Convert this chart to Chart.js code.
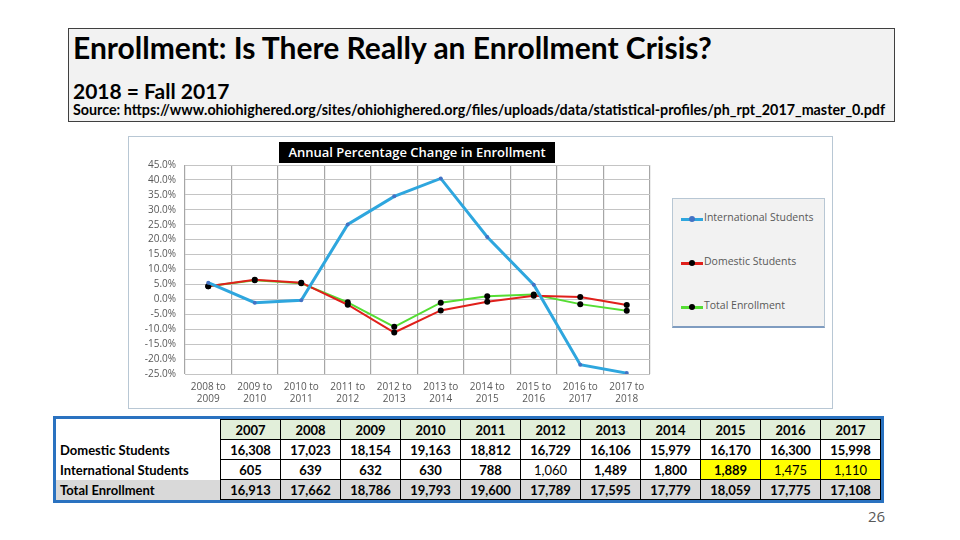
<!DOCTYPE html>
<html><head><meta charset="utf-8">
<script src="https://cdn.jsdelivr.net/npm/chart.js@4.4.1/dist/chart.umd.min.js"></script>
<style>
body{margin:0;width:960px;height:540px;background:#fff;position:relative;overflow:hidden;font-family:Lato,'Open Sans',sans-serif;}
#titlebox{position:absolute;left:68px;top:28px;width:827px;height:94px;background:#f2f2f2;border:1px solid #404040;box-sizing:border-box;}
#t1{position:absolute;left:4px;top:0px;font-weight:700;font-size:30px;color:#000;white-space:nowrap;}
#t2{position:absolute;left:4px;top:49px;font-weight:700;font-size:21px;color:#000;white-space:nowrap;}
#t3{position:absolute;left:4px;top:72px;font-weight:700;font-size:14.3px;color:#000;white-space:nowrap;}
#chartbox{position:absolute;left:128px;top:136px;width:705px;height:273px;border:1px solid #b8c7d4;box-sizing:border-box;background:#fff;}
#cv{position:absolute;left:128px;top:136px;}
#ctitle{position:absolute;left:279px;top:142px;width:276px;height:21px;line-height:21px;background:#000;color:#fff;font-family:'Open Sans',sans-serif;font-weight:600;font-size:13px;text-align:center;white-space:nowrap;}
#legend{position:absolute;left:672px;top:198px;width:153px;height:130px;background:#f2f2f2;border:1px solid #b8c7d4;border-bottom:2px solid #7f9cc0;box-sizing:border-box;}
.li{position:absolute;left:8px;height:12px;font-size:10.5px;color:#595959;white-space:nowrap;font-family:'Open Sans',sans-serif;}
.ls{position:absolute;left:0;top:5px;width:22px;height:3px;}
.ld{position:absolute;left:8px;top:3px;width:6px;height:6px;border-radius:50%;}
.lt{position:absolute;left:23px;top:-3px;}
#tblwrap{position:absolute;left:53px;top:416px;border:3px solid #2a72c0;background:#fff;}
table{border-collapse:collapse;font-family:Lato,sans-serif;font-size:13px;font-weight:700;color:#000;}
td{height:19px;padding:0;text-align:center;border:1px solid #000;width:59px;}
td.lab{width:160px;text-align:left;padding-left:4px;border-top:none;border-bottom:none;border-left:none;}
tr.hdr td{background:#e2efda;}
tr.hdr td.lab{background:#fff;}
tr.tot td{background:#d9d9d9;}
td.hl{background:#ffff00;}
td.reg{font-weight:400;}
#pg{position:absolute;left:868px;top:506px;font-size:15px;color:#595959;font-family:'Open Sans',sans-serif;}
</style></head>
<body>
<div id="titlebox">
<div id="t1">Enrollment: Is There Really an Enrollment Crisis?</div>
<div id="t2">2018 = Fall 2017</div>
<div id="t3">Source: https://www.ohiohighered.org/sites/ohiohighered.org/files/uploads/data/statistical-profiles/ph_rpt_2017_master_0.pdf</div>
</div>
<div id="chartbox"></div>
<canvas id="cv" width="530" height="272"></canvas>
<div id="ctitle">Annual Percentage Change in Enrollment</div>
<div id="legend"></div>
<div id="tblwrap"><table id="tbl"></table></div>
<div id="pg">26</div>
<script>
// ---- data ----
const periods = [['2008 to','2009'],['2009 to','2010'],['2010 to','2011'],['2011 to','2012'],['2012 to','2013'],['2013 to','2014'],['2014 to','2015'],['2015 to','2016'],['2016 to','2017'],['2017 to','2018']];
const intlChange = [5.6, -1.1, -0.3, 25.1, 34.5, 40.5, 20.9, 4.9, -21.9, -24.7];
const domChange = [4.4, 6.6, 5.6, -1.8, -11.1, -3.7, -0.8, 1.2, 0.8, -1.9];
const totChange = [4.4, 6.4, 5.4, -1.0, -9.2, -1.1, 1.0, 1.6, -1.6, -3.8];
const years = ['2007','2008','2009','2010','2011','2012','2013','2014','2015','2016','2017'];
const domestic = ['16,308','17,023','18,154','19,163','18,812','16,729','16,106','15,979','16,170','16,300','15,998'];
const international = ['605','639','632','630','788','1,060','1,489','1,800','1,889','1,475','1,110'];
const total = ['16,913','17,662','18,786','19,793','19,600','17,789','17,595','17,779','18,059','17,775','17,108'];
const seriesNames = ['International Students','Domestic Students','Total Enrollment'];
const lineColors = ['#2ea6de','#e0201b','#55dd33'];
const dotColors = ['#4472c4','#000000','#000000'];

// ---- chart ----
new Chart(document.getElementById('cv'), {
  type: 'line',
  data: {
    labels: periods,
    datasets: [
      {label: seriesNames[0], data: intlChange, borderColor: lineColors[0], borderWidth: 3, pointRadius: 2, pointBackgroundColor: dotColors[0], pointBorderWidth: 0, tension: 0},
      {label: seriesNames[1], data: domChange, borderColor: lineColors[1], borderWidth: 2, pointRadius: 3, pointBackgroundColor: dotColors[1], pointBorderWidth: 0, tension: 0},
      {label: seriesNames[2], data: totChange, borderColor: lineColors[2], borderWidth: 2, pointRadius: 3, pointBackgroundColor: dotColors[2], pointBorderWidth: 0, tension: 0}
    ]
  },
  options: {
    responsive: false,
    animation: false,
    layout: {padding: {top: 29, right: 8, bottom: 0, left: 0}},
    plugins: {legend: {display: false}, tooltip: {enabled: false}, title: {display: false}},
    scales: {
      x: {
        offset: true,
        grid: {offset: true, color: '#a6a6a6', lineWidth: 1.2, drawTicks: false},
        border: {display: false},
        ticks: {font: {family: "'Open Sans'", size: 10}, color: '#595959', padding: 7, maxRotation: 0, autoSkip: false},
        afterFit: s => { s.height = 34; }
      },
      y: {
        min: -25, max: 45,
        grid: {color: '#c4c4c4', drawTicks: false},
        border: {display: false},
        ticks: {stepSize: 5, autoSkip: false, font: {family: "'Open Sans'", size: 10}, color: '#595959', padding: 9,
          callback: v => v.toFixed(1) + '%'},
        afterFit: s => { s.width = 57; }
      }
    }
  }
});

// ---- legend ----
const lg = document.getElementById('legend');
const tops = [14, 58, 102];
seriesNames.forEach((n, i) => {
  const d = document.createElement('div');
  d.className = 'li'; d.style.top = tops[i] + 'px';
  d.innerHTML = '<div class="ls" style="background:' + lineColors[i] + '"></div><div class="ld" style="background:' + dotColors[i] + '"></div><div class="lt">' + n + '</div>';
  lg.appendChild(d);
});

// ---- table ----
const tbl = document.getElementById('tbl');
function row(cls, label, vals, fn) {
  const tr = document.createElement('tr');
  if (cls) tr.className = cls;
  const l = document.createElement('td'); l.className = 'lab'; l.textContent = label; tr.appendChild(l);
  vals.forEach((v, i) => { const td = document.createElement('td'); td.textContent = v; if (fn) fn(td, i); tr.appendChild(td); });
  tbl.appendChild(tr);
}
row('hdr', '', years);
row('', 'Domestic Students', domestic);
row('', 'International Students', international, (td, i) => {
  if (i >= 8) td.classList.add('hl');
  if (i === 5 || i === 9 || i === 10) td.classList.add('reg');
});
row('tot', 'Total Enrollment', total);
</script>
</body></html>
